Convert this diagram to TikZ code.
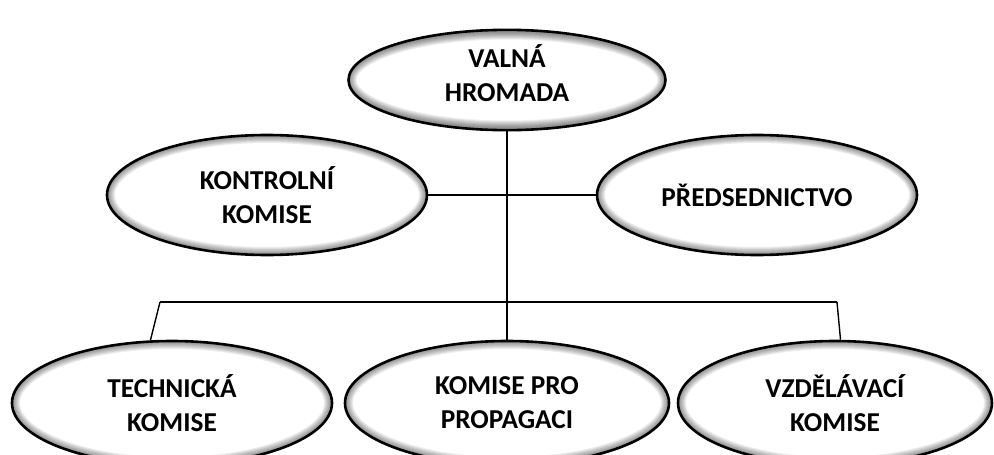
\documentclass[tikz,border=0pt]{standalone}
\usepackage{fontspec}
\setmainfont{Carlito}
\usetikzlibrary{shapes.geometric}
\begin{document}
\begin{tikzpicture}[x=1pt,y=-1pt,
  oval/.style 2 args={ellipse, draw=black, line width=2.6pt, fill=white, inner sep=0pt,
    minimum width={2*#1pt}, minimum height={2*#2pt}, align=center,
    font=\fontsize{27.3}{34}\selectfont\bfseries,
    path picture={\foreach \w in {2,4,...,16}{%
      \draw[line width=\w pt, black, opacity=0.065] (path picture bounding box.center)
        ellipse [x radius=#1pt, y radius=#2pt];}}},
  link/.style={line width=1.4pt, black}]
  \useasboundingbox (0,0) rectangle (994,455);
  \fill[white] (0,0) rectangle (994,455);
  \clip (0,0) rectangle (994,455);

  % organisation units
  \node[oval={158.5}{48.5}, text depth=14pt] (gm) at (507,80) {VALNÁ\\HROMADA};
  \node[oval={160}{60}] (kk) at (267,195) {KONTROLNÍ\\KOMISE};
  \node[oval={160}{60}] (pr) at (757,195) {PŘEDSEDNICTVO};
  \node[oval={160}{62}] (tk) at (172,403) {TECHNICKÁ\\KOMISE};
  \node[oval={162}{62}] (kp) at (507,403) {KOMISE PRO\\PROPAGACI};
  \node[oval={157}{62}] (vk) at (835,403) {VZDĚLÁVACÍ\\KOMISE};

  % connecting lines
  \coordinate (bl) at (160,302);
  \coordinate (br) at (837,302);
  \draw[link] (gm.south) -- (kp.north);
  \draw[link] (kk.east) -- (pr.west);
  \draw[link] (bl) -- (br);
  \draw[link] (bl) -- (tk.109);
  \draw[link] (br) -- (vk.85);
\end{tikzpicture}
\end{document}
